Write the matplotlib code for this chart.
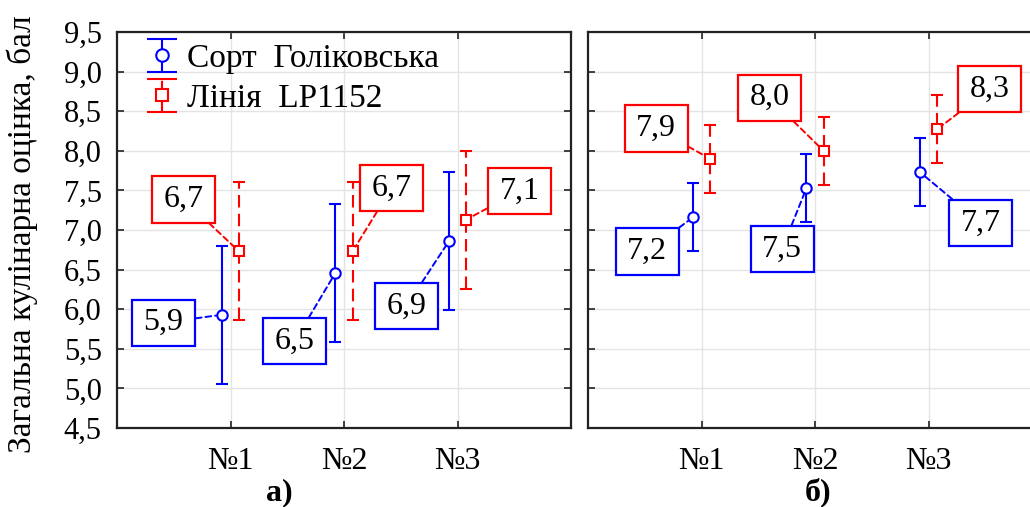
import matplotlib
matplotlib.use("Agg")
import matplotlib.pyplot as plt
from matplotlib.path import Path
import numpy as np

plt.rcParams['font.family'] = ['Liberation Serif', 'DejaVu Serif']
plt.rcParams['font.serif'] = ['Liberation Serif']
FAM = ['Liberation Serif', 'DejaVu Serif']

categories = ['№1', '№2', '№3']
yticks = [4.5, 5.0, 5.5, 6.0, 6.5, 7.0, 7.5, 8.0, 8.5, 9.0, 9.5]

# panel a)
a_blue = [5.93, 6.46, 6.86]
a_blue_err = [0.87, 0.87, 0.87]
a_red = [6.73, 6.73, 7.13]
a_red_err = [0.87, 0.87, 0.87]
a_blue_lab = ['5,9', '6,5', '6,9']
a_red_lab = ['6,7', '6,7', '7,1']

# panel б)
b_blue = [7.16, 7.53, 7.73]
b_blue_err = [0.43, 0.43, 0.43]
b_red = [7.90, 8.00, 8.27]
b_red_err = [0.43, 0.43, 0.43]
b_blue_lab = ['7,2', '7,5', '7,7']
b_red_lab = ['7,9', '8,0', '8,3']

series_names = ['Сорт  Голіковська', 'Лінія  LP1152']

BLUE = '#0000ff'
RED = '#ff0000'
OFF = 0.075
DASH = (0, (6, 3))

W, H = 1030, 507
fig = plt.figure(figsize=(W / 100, H / 100), dpi=100)
bot = (H - 428) / H
hgt = 396 / H
ax1 = fig.add_axes([117 / W, bot, 454 / W, hgt])
ax2 = fig.add_axes([588 / W, bot, 454 / W, hgt])

# label box positions (data coords)
a_blue_pos = [(0.41, 5.83), (1.565, 5.595), (2.55, 6.04)]
a_red_pos = [(0.59, 7.385), (2.42, 7.53), (3.545, 7.49)]
b_blue_pos = [(0.52, 6.73), (1.71, 6.76), (3.46, 7.09)]
b_red_pos = [(0.60, 8.28), (1.60, 8.67), (3.54, 8.78)]


def wide_box(x0, y0, width, height, mutation_size):
    px = 0.36 * mutation_size
    py = 0.27 * mutation_size
    verts = [(x0 - px, y0 - py), (x0 + width + px, y0 - py),
             (x0 + width + px, y0 + height + py), (x0 - px, y0 + height + py),
             (x0 - px, y0 - py)]
    codes = [Path.MOVETO, Path.LINETO, Path.LINETO, Path.LINETO, Path.CLOSEPOLY]
    return Path(verts, codes)


def draw(ax, blue, berr, red, rerr, blab, rlab, bpos, rpos, ylabels):
    x = [1, 2, 3]
    xb = [v - OFF for v in x]
    xr = [v + OFF for v in x]
    ax.set_xlim(0, 4)
    ax.set_ylim(4.5, 9.5)
    ax.set_yticks(yticks)
    ax.set_xticks(x)
    ax.set_xticklabels(categories, fontsize=23, family=FAM)
    if ylabels:
        ax.set_yticklabels([f'{v:.1f}'.replace('.', ',') for v in yticks],
                           fontsize=22, family=FAM)
    else:
        ax.set_yticklabels([])
    ax.grid(True, color='#e4e4e4', linewidth=1.0)
    ax.set_axisbelow(True)
    ax.tick_params(direction='in', length=5, width=1.2, top=True, right=True,
                   pad=11, color='#222222')
    ax.tick_params(axis='x', pad=14)
    for s in ax.spines.values():
        s.set_linewidth(1.6)
        s.set_color('#222222')

    ax.errorbar(xb, blue, yerr=berr, fmt='o', color=BLUE, mfc='white', mec=BLUE,
                ms=7.5, mew=1.5, elinewidth=1.5, capsize=4, capthick=1.5, zorder=4)
    er = ax.errorbar(xr, red, yerr=rerr, fmt='s', color=RED, mfc='white', mec=RED,
                     ms=7, mew=1.5, elinewidth=1.5, capsize=4, capthick=1.5, zorder=4)
    er[2][0].set_linestyle(DASH)

    for xs, ys, labs, poss, col in ((xb, blue, blab, bpos, BLUE), (xr, red, rlab, rpos, RED)):
        for xi, yi, t, (tx, ty) in zip(xs, ys, labs, poss):
            ax.annotate(t, xy=(xi, yi), xytext=(tx, ty), fontsize=23, family=FAM,
                        ha='center', va='center',
                        bbox=dict(boxstyle=wide_box, fc='white', ec=col, lw=1.6),
                        arrowprops=dict(arrowstyle='-', color=col, lw=1.4, ls=(0, (3, 2)),
                                        shrinkA=0, shrinkB=4), zorder=5)


draw(ax1, a_blue, a_blue_err, a_red, a_red_err, a_blue_lab, a_red_lab,
     a_blue_pos, a_red_pos, True)
draw(ax2, b_blue, b_blue_err, b_red, b_red_err, b_blue_lab, b_red_lab,
     b_blue_pos, b_red_pos, False)

# legend handles (invisible dummy errorbars with wider caps)
hb = ax1.errorbar([np.nan], [np.nan], yerr=[1], fmt='o', color=BLUE, mfc='white', mec=BLUE,
                  ms=9, mew=1.5, elinewidth=1.5, capsize=11, capthick=1.5)
hr = ax1.errorbar([np.nan], [np.nan], yerr=[1], fmt='s', color=RED, mfc='white', mec=RED,
                  ms=9, mew=1.5, elinewidth=1.5, capsize=11, capthick=1.5)
hr[2][0].set_linestyle(DASH)

leg = ax1.legend([hb, hr], series_names, loc='upper left', frameon=False,
                 prop={'family': FAM, 'size': 24},
                 bbox_to_anchor=(0.015, 1.03), handlelength=0.9, handletextpad=0.3,
                 labelspacing=0.29, borderaxespad=0.3)

ax1.set_ylabel('Загальна кулінарна оцінка, бал', fontsize=24, family=FAM)
ax1.yaxis.set_label_coords(-0.175, 0.49)

fig.text(279 / W, 1 - 500 / H, 'а)', fontsize=23, fontweight='bold', family=FAM,
         ha='center', va='baseline')
fig.text(818 / W, 1 - 500 / H, 'б)', fontsize=23, fontweight='bold', family=FAM,
         ha='center', va='baseline')

fig.savefig('out.png', dpi=100)
